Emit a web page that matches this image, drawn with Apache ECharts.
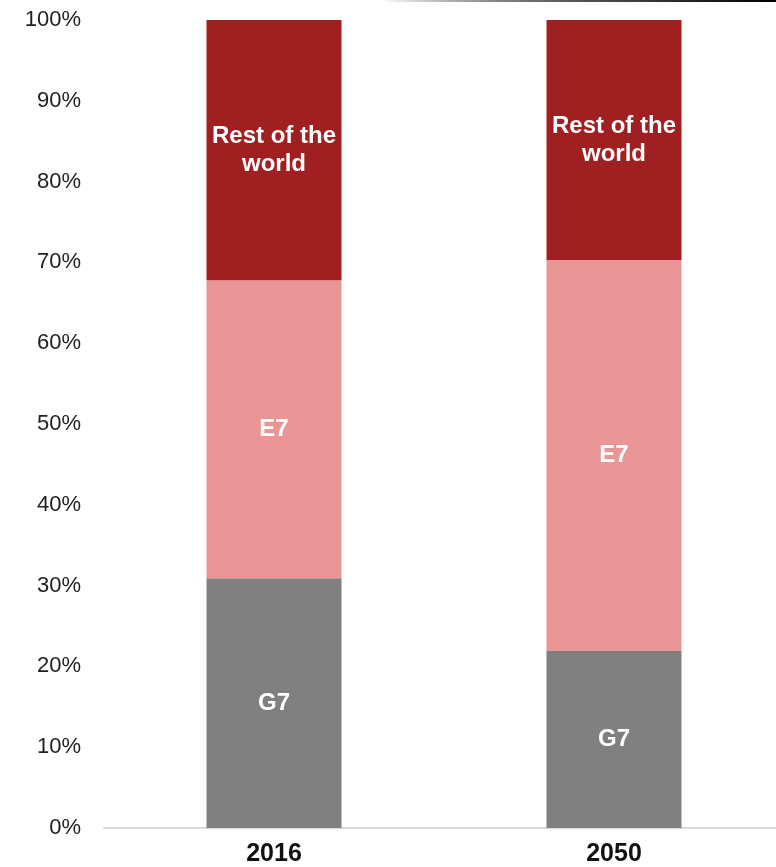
<!DOCTYPE html>
<html>
<head>
<meta charset="utf-8">
<script src="https://cdn.jsdelivr.net/npm/echarts@6/dist/echarts.min.js"></script>
<style>
html,body{margin:0;padding:0;background:#fff;overflow:hidden;width:776px;height:867px;}
#chart{width:784px;height:867px;}
</style>
</head>
<body>
<div id="chart"></div>
<script>
var categories = ['2016', '2050'];
var g7 = [30.9, 21.9];
var e7 = [36.9, 48.4];
var rest = [32.2, 29.7];
var seriesNames = ['G7', 'E7', 'Rest of the\nworld'];
var yTicks = [0, 10, 20, 30, 40, 50, 60, 70, 80, 90, 100];

var chart = echarts.init(document.getElementById('chart'));
var font = "'Liberation Sans', Arial, sans-serif";
function lbl() {
  return {
    show: true, position: 'inside', color: '#ffffff', fontWeight: 'bold',
    fontSize: 24, fontFamily: font, lineHeight: 28,
    formatter: function (p) { return p.seriesName; }
  };
}
chart.setOption({
  animation: false,
  grid: { left: 104, top: 20, right: 0, bottom: 39, containLabel: false },
  xAxis: {
    type: 'category', data: categories,
    axisLine: { lineStyle: { color: '#d9d9d9', width: 2 } },
    axisTick: { show: false },
    axisLabel: { color: '#111', fontWeight: 'bold', fontSize: 25, fontFamily: font, margin: 14 }
  },
  yAxis: {
    type: 'value', min: 0, max: 100, interval: 10,
    splitLine: { show: false },
    axisLine: { show: false }, axisTick: { show: false },
    axisLabel: { color: '#222', fontSize: 22, fontFamily: font, margin: 23,
      formatter: function (v) { return yTicks.indexOf(v) >= 0 ? v + '%' : ''; } }
  },
  series: [
    { name: seriesNames[0], type: 'bar', stack: 's', data: g7, barWidth: 135, itemStyle: { color: '#808080' }, label: lbl() },
    { name: seriesNames[1], type: 'bar', stack: 's', data: e7, barWidth: 135, itemStyle: { color: '#e99595' }, label: lbl() },
    { name: seriesNames[2], type: 'bar', stack: 's', data: rest, barWidth: 135, itemStyle: { color: '#a01f20' }, label: lbl() }
  ],
  graphic: [{
    type: 'rect', shape: { x: 380, y: 0, width: 396, height: 2 },
    style: { fill: new echarts.graphic.LinearGradient(0, 0, 1, 0, [
      { offset: 0, color: 'rgba(0,0,0,0)' }, { offset: 0.5, color: '#555' }, { offset: 1, color: '#000' }]) }
  }]
});
</script>
</body>
</html>
